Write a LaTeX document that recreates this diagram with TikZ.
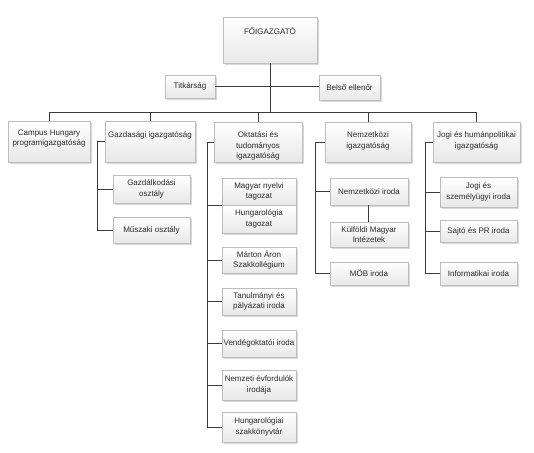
\documentclass[tikz,border=0pt]{standalone}
\usepackage{fontspec}
\setmainfont{Liberation Sans}
\usetikzlibrary{shadows,calc}
\definecolor{lineC}{HTML}{3A3A3A}
\definecolor{txtC}{HTML}{2A2A2A}
\definecolor{bordC}{HTML}{BDBDBD}
\tikzset{
  orgbox/.style={draw=bordC, line width=0.6pt, top color=white, bottom color=black!9,
    drop shadow={shadow xshift=1.6pt, shadow yshift=-1.6pt, fill=black!22, opacity=0.7},
    inner sep=0pt, font=\fontsize{8}{10.5}\selectfont, text=txtC, align=center},
  boxtxt/.style={font=\fontsize{8}{10.5}\selectfont, text=txtC, align=center, inner sep=0pt, anchor=north},
  conn/.style={draw=lineC, line width=0.7pt}
}
\newcommand{\obox}[6]{% name, x1,y1,x2,y2, text
  \node[orgbox, minimum width={(#4-#2)*1pt}, minimum height={(#5-#3)*1pt}] (#1) at ({(#2+#4)/2},{(#3+#5)/2}) {#6};}
\newcommand{\tbox}[7]{% name, x1,y1,x2,y2, text offset, text
  \node[orgbox, minimum width={(#4-#2)*1pt}, minimum height={(#5-#3)*1pt}] (#1) at ({(#2+#4)/2},{(#3+#5)/2}) {};
  \node[boxtxt] (#1t) at ($(#1.north)+(0,#6)$) {#7};}
\begin{document}
\begin{tikzpicture}[x=1pt,y=-1pt]
\useasboundingbox (0,0) rectangle (534,452);
% top
\tbox{fo}{223}{17}{317}{63}{11}{FŐIGAZGATÓ}
\obox{tit}{165}{75}{215}{98}{Titkárság}
\obox{bel}{319}{75}{380}{100}{Belső ellenőr}
% level 1
\tbox{camp}{8}{121}{90}{162}{9}{Campus Hungary\\programigazgatóság}
\tbox{gaz}{105}{121}{195}{162}{11}{Gazdasági igazgatóság}
\tbox{okt}{214}{122}{302}{162}{10}{Oktatási és\\tudományos\\igazgatóság}
\tbox{nem}{325}{122}{411}{162}{10}{Nemzetközi\\igazgatóság}
\tbox{jog}{433}{122}{520}{162}{10}{Jogi és humánpolitikai\\igazgatóság}
% gazdasagi children
\obox{gzd}{113}{175}{190}{203}{Gazdálkodási\\osztály}
\obox{musz}{113}{217}{190}{243}{Műszaki osztály}
% oktatasi children
\obox{mny}{222}{178}{296}{205}{Magyar nyelvi\\tagozat}
\obox{hung}{222}{205}{296}{233}{Hungarológia\\tagozat}
\obox{mar}{222}{247}{296}{273}{Márton Áron\\Szakkollégium}
\obox{tan}{222}{288}{296}{315}{Tanulmányi és\\pályázati iroda}
\obox{ven}{222}{330}{296}{357}{Vendégoktatói iroda}
\obox{nev}{222}{370}{296}{400}{Nemzeti évfordulók\\irodája}
\obox{hsz}{222}{412}{296}{442}{Hungarológiai\\szakkönyvtár}
% nemzetkozi children
\obox{nir}{330}{178}{408}{205}{Nemzetközi iroda}
\obox{kmi}{330}{222}{408}{247}{Külföldi Magyar\\Intézetek}
\obox{mob}{330}{262}{408}{285}{MÖB iroda}
% jogi children
\obox{jsz}{440}{177}{517}{207}{Jogi és\\személyügyi iroda}
\obox{saj}{440}{220}{517}{242}{Sajtó és PR iroda}
\obox{inf}{440}{262}{517}{285}{Informatikai iroda}
% spine coordinates
\coordinate (bar) at (0,112);
\coordinate (gs) at (97,0);
\coordinate (os) at (207,0);
\coordinate (ns) at (315,0);
\coordinate (js) at (425,0);
% top connectors
\draw[conn] (fo.south) -- (fo.south |- bar);
\draw[conn] (tit.east) -- (tit.east -| bel.west);
\draw[conn] (camp.north) -- (camp.north |- bar) -- (jog.north |- bar) -- (jog.north);
\draw[conn] (gaz.north |- bar) -- (gaz.north);
\draw[conn] (okt.north |- bar) -- (okt.north);
\draw[conn] (nem.north |- bar) -- (nem.north);
% gazdasagi
\draw[conn] (gaz.west) -- (gaz.west -| gs) -- (gs |- musz.west) -- (musz.west);
\draw[conn] (gzd.west) -- (gzd.west -| gs);
% oktatasi
\draw[conn] (okt.west) -- (okt.west -| os) -- (os |- hsz.west) -- (hsz.west);
\draw[conn] (mny.south west) -- (mny.south west -| os);
\draw[conn] (mar.west) -- (mar.west -| os);
\draw[conn] (tan.west) -- (tan.west -| os);
\draw[conn] (ven.west) -- (ven.west -| os);
\draw[conn] (nev.west) -- (nev.west -| os);
% nemzetkozi
\draw[conn] (nem.west) -- (nem.west -| ns) -- (ns |- mob.west) -- (mob.west);
\draw[conn] (nir.west) -- (nir.west -| ns);
\draw[conn] (nir.south -| nem.south) -- (kmi.north -| nem.south);
% jogi
\draw[conn] (jog.west) -- (jog.west -| js) -- (js |- inf.west) -- (inf.west);
\draw[conn] (jsz.west) -- (jsz.west -| js);
\draw[conn] (saj.west) -- (saj.west -| js);
\end{tikzpicture}
\end{document}
